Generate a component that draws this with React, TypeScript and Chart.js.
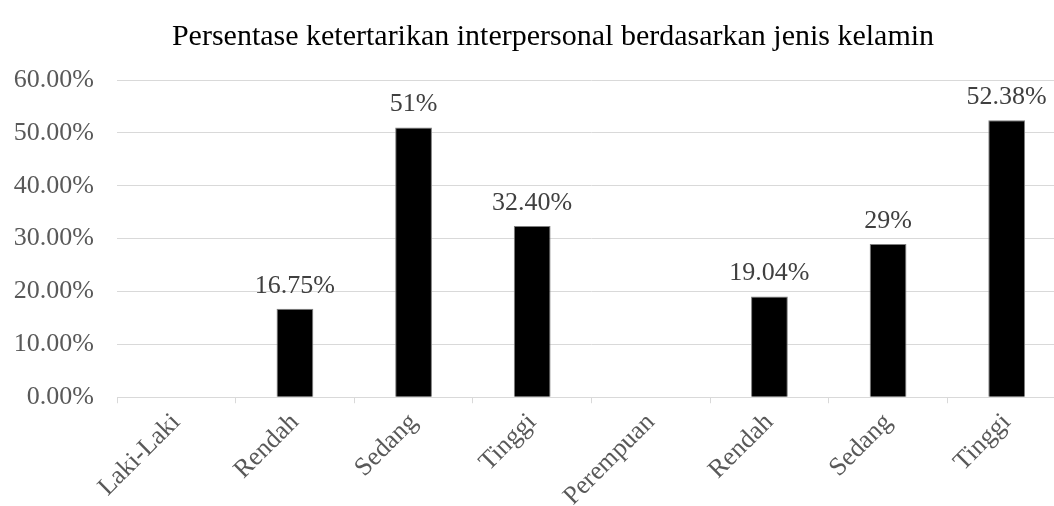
import React, { useEffect, useRef } from "react";
import { Chart, registerables } from "chart.js";

Chart.register(...registerables);

const categories = ["Laki-Laki", "Rendah", "Sedang", "Tinggi", "Perempuan", "Rendah", "Sedang", "Tinggi"];
const values: (number | null)[] = [null, 16.75, 51, 32.4, null, 19.04, 29, 52.38];
const valueLabels = ["", "16.75%", "51%", "32.40%", "", "19.04%", "29%", "52.38%"];
const yTicks = [0, 10, 20, 30, 40, 50, 60];
const title = "Persentase ketertarikan interpersonal berdasarkan jenis kelamin";

const FONT = "'Liberation Serif', 'Times New Roman', serif";

const labelPlugin = {
  id: "valueLabels",
  afterDatasetsDraw(chart: any) {
    const ctx = chart.ctx;
    const meta = chart.getDatasetMeta(0);
    ctx.save();
    ctx.font = `26px ${FONT}`;
    ctx.fillStyle = "#404040";
    ctx.textAlign = "center";
    ctx.textBaseline = "bottom";
    meta.data.forEach((bar: any, i: number) => {
      if (values[i] == null) return;
      ctx.fillText(valueLabels[i], bar.x, bar.y - 10);
    });
    ctx.restore();
  },
};

const titlePlugin = {
  id: "customTitle",
  afterDraw(chart: any) {
    const ctx = chart.ctx;
    ctx.save();
    ctx.font = `30px ${FONT}`;
    ctx.fillStyle = "#000000";
    ctx.textAlign = "center";
    ctx.textBaseline = "middle";
    ctx.fillText(title, 553, 37);
    ctx.restore();
  },
};

export default function App() {
  const ref = useRef<HTMLCanvasElement>(null);
  useEffect(() => {
    document.body.style.margin = "0";
    const chart = new Chart(ref.current!, {
      type: "bar",
      data: {
        labels: categories,
        datasets: [
          {
            data: values as any,
            backgroundColor: "#000000",
            borderColor: "#7f7f7f",
            borderWidth: 1,
            categoryPercentage: 1,
            barPercentage: 0.31,
          },
        ],
      },
      options: {
        animation: false,
        responsive: false,
        layout: { padding: { left: 12, right: 0, top: 80, bottom: -10 } },
        plugins: {
          legend: { display: false },
          tooltip: { enabled: false },
          title: { display: false },
        },
        scales: {
          x: {
            afterFit: (axis: any) => {
              axis.paddingLeft = 0;
              axis.paddingRight = 0;
            },
            grid: {
              display: true,
              drawOnChartArea: false,
              drawTicks: true,
              tickLength: 6,
              offset: true,
              color: "#d9d9d9",
            },
            border: { display: true, color: "#d9d9d9", width: 1 },
            ticks: {
              color: "#595959",
              font: { family: FONT, size: 26 },
              minRotation: 45,
              maxRotation: 45,
              padding: 4,
              autoSkip: false,
            },
          },
          y: {
            min: 0,
            max: 60,
            afterBuildTicks: (axis: any) => {
              axis.ticks = yTicks.map((v) => ({ value: v }));
            },
            afterFit: (axis: any) => {
              axis.width = 105;
            },
            grid: { color: "#d9d9d9", drawTicks: false, lineWidth: 1 },
            border: { display: false },
            ticks: {
              color: "#595959",
              font: { family: FONT, size: 26 },
              padding: 23,
              callback: (v: any) => Number(v).toFixed(2) + "%",
            },
          },
        },
      },
      plugins: [labelPlugin, titlePlugin],
    });
    return () => chart.destroy();
  }, []);
  return (
    <div style={{ width: 1054, height: 506, overflow: "hidden" }}>
      <canvas ref={ref} width={1066} height={506} style={{ display: "block" }} />
    </div>
  );
}
